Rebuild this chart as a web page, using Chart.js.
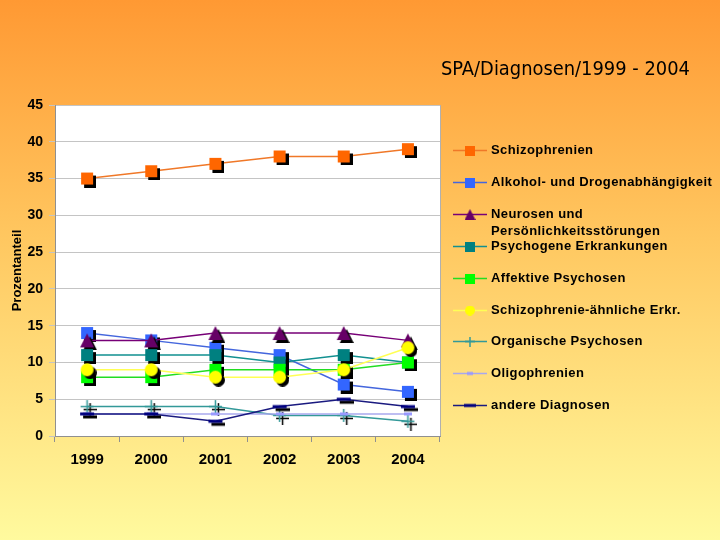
<!DOCTYPE html>
<html>
<head>
<meta charset="utf-8">
<script src="https://cdn.jsdelivr.net/npm/chart.js@4"></script>
<style>
  html, body { margin: 0; padding: 0; }
  #wrap { width: 720px; height: 540px; }
</style>
</head>
<body>
<div id="wrap"><canvas id="chart" width="720" height="540"></canvas></div>
<script>
// Daten
const years = ["1999", "2000", "2001", "2002", "2003", "2004"];
const schizophrenien = [35, 36, 37, 38, 38, 39];
const alkohol = [14, 13, 12, 11, 7, 6];
const neurosen = [13, 13, 14, 14, 14, 13];
const psychogene = [11, 11, 11, 10, 11, 10];
const affektive = [8, 8, 9, 9, 9, 10];
const schizoAehnlich = [9, 9, 8, 8, 9, 12];
const organische = [4, 4, 4, 2.8, 2.8, 2];
const oligophrenien = [3, 3, 3, 3, 3, 3];
const andere = [3, 3, 2, 4, 5, 4];
const yMax = 45;
const yStep = 5;
const chartTitle = "SPA/Diagnosen/1999 - 2004";
const yTitle = "Prozentanteil";

// Marker mit Schatten als kleines Canvas
function marker(shape, color, s, shadow) {
  const o = shadow;
  const c = document.createElement("canvas");
  c.width = s + 2 * o;
  c.height = s + 2 * o;
  const g = c.getContext("2d");
  const draw = (dx, fill) => {
    g.fillStyle = fill;
    g.strokeStyle = fill;
    const x = o + dx, y = o + dx;
    if (shape === "square") {
      g.fillRect(x, y, s, s);
    } else if (shape === "triangle") {
      g.beginPath();
      g.moveTo(x + s / 2, y);
      g.lineTo(x + s, y + s);
      g.lineTo(x, y + s);
      g.closePath();
      g.fill();
    } else if (shape === "circle") {
      g.beginPath();
      g.arc(x + s / 2, y + s / 2, s / 2, 0, Math.PI * 2);
      g.fill();
    } else if (shape === "cross") {
      g.lineWidth = 1.5;
      g.beginPath();
      g.moveTo(x + s / 2, y);
      g.lineTo(x + s / 2, y + s);
      g.moveTo(x, y + s / 2);
      g.lineTo(x + s, y + s / 2);
      g.stroke();
    } else if (shape === "dash") {
      g.fillRect(x, y + s / 2 - 1.5, s, 3);
    }
  };
  if (o > 0) draw(o, "#000000");
  draw(0, color);
  return c;
}

const series = [
  { label: "Schizophrenien", data: schizophrenien, color: "#FF6600", line: "#F07828", shape: "square", size: 12 },
  { label: "Alkohol- und Drogenabhängigkeit", data: alkohol, color: "#3366FF", line: "#4466DD", shape: "square", size: 12 },
  { label: ["Neurosen und", "Persönlichkeitsstörungen"], data: neurosen, color: "#660066", line: "#770077", shape: "triangle", size: 14 },
  { label: "Psychogene Erkrankungen", data: psychogene, color: "#008080", line: "#119090", shape: "square", size: 12 },
  { label: "Affektive Psychosen", data: affektive, color: "#00FF00", line: "#22DD22", shape: "square", size: 12 },
  { label: "Schizophrenie-ähnliche Erkr.", data: schizoAehnlich, color: "#FFFF00", line: "#FFFF55", shape: "circle", size: 13 },
  { label: "Organische Psychosen", data: organische, color: "#339999", line: "#339999", shape: "cross", size: 13 },
  { label: "Oligophrenien", data: oligophrenien, color: "#9999FF", line: "#A8A8EE", shape: "dash", size: 8 },
  { label: "andere Diagnosen", data: andere, color: "#000080", line: "#1A1A80", shape: "dash", size: 14 }
];

const n = series.length;
const datasets = series.map((s, i) => ({
  label: Array.isArray(s.label) ? s.label.join(" ") : s.label,
  data: s.data,
  borderColor: s.line,
  borderWidth: 1.5,
  pointStyle: marker(s.shape, s.color, s.size, s.shape === "dash" && s.size < 10 ? 0 : 3),
  legendStyle: marker(s.shape, s.color, s.shape === "dash" ? s.size - 2 : Math.round(s.size * 0.8), 0),
  legendLines: Array.isArray(s.label) ? s.label : [s.label],
  tension: 0,
  order: n - i
}));

// Hintergrund, Plotfläche, Titel und Legende
const deco = {
  id: "deco",
  beforeDraw(chart) {
    const ctx = chart.ctx;
    const grad = ctx.createLinearGradient(0, 0, 0, chart.height);
    grad.addColorStop(0, "#FF9933");
    grad.addColorStop(0.45, "#FFC861");
    grad.addColorStop(1, "#FFFA9E");
    ctx.save();
    ctx.fillStyle = grad;
    ctx.fillRect(0, 0, chart.width, chart.height);
    const a = chart.chartArea;
    ctx.fillStyle = "#FFFFFF";
    ctx.fillRect(a.left, a.top, a.right - a.left, a.bottom - a.top);
    ctx.strokeStyle = "#B0B0B0";
    ctx.lineWidth = 1;
    ctx.strokeRect(a.left + 0.5, a.top + 0.5, a.right - a.left, a.bottom - a.top);
    ctx.restore();
  },
  afterDraw(chart) {
    const ctx = chart.ctx;
    ctx.save();
    // Titel
    ctx.fillStyle = "#000000";
    ctx.textBaseline = "middle";
    ctx.textAlign = "left";
    let fs = 18;
    ctx.font = fs + "px 'DejaVu Sans Condensed', 'DejaVu Sans', sans-serif";
    const w = ctx.measureText(chartTitle).width;
    fs = fs * 249 / w;
    ctx.font = fs + "px 'DejaVu Sans Condensed', 'DejaVu Sans', sans-serif";
    ctx.fillText(chartTitle, 441, 70);
    // Legende
    ctx.font = "bold 13px 'Liberation Sans', Arial, sans-serif";
    ctx.letterSpacing = "0.4px";
    chart.data.datasets.forEach((ds, i) => {
      const y = Math.round(150 + i * 31.9);
      ctx.strokeStyle = ds.borderColor;
      ctx.lineWidth = 1.5;
      ctx.beginPath();
      ctx.moveTo(453, y + 0.5);
      ctx.lineTo(487, y + 0.5);
      ctx.stroke();
      const m = ds.legendStyle;
      ctx.drawImage(m, 470 - m.width / 2, y - m.height / 2 + 0.5);
      ctx.fillStyle = "#000000";
      ds.legendLines.forEach((t, k) => ctx.fillText(t, 491, y + k * 17));
    });
    ctx.restore();
  }
};

new Chart(document.getElementById("chart"), {
  type: "line",
  data: { labels: years, datasets: datasets },
  plugins: [deco],
  options: {
    responsive: false,
    animation: false,
    events: [],
    layout: { padding: { top: 105, right: 280, left: 0, bottom: 0 } },
    plugins: {
      legend: { display: false },
      title: { display: false },
      tooltip: { enabled: false }
    },
    scales: {
      x: {
        offset: true,
        afterFit(scale) { scale.height = 104; },
        grid: { offset: true, drawOnChartArea: false, drawTicks: true, tickLength: 6, color: "#909090" },
        border: { color: "#909090" },
        ticks: {
          padding: 9,
          color: "#000000",
          font: { family: "'Liberation Sans', Arial, sans-serif", size: 15, weight: "bold" }
        }
      },
      y: {
        min: 0,
        max: yMax,
        afterFit(scale) { scale.width = 55; },
        grid: { color: "#C4C4C4", tickLength: 6, lineWidth: 1 },
        border: { color: "#909090" },
        ticks: {
          stepSize: yStep,
          padding: 6,
          color: "#000000",
          font: { family: "'Liberation Sans', Arial, sans-serif", size: 14, weight: "bold" }
        },
        title: {
          display: true,
          text: yTitle,
          color: "#000000",
          padding: { top: 10, bottom: 0 },
          font: { family: "'Liberation Sans', Arial, sans-serif", size: 13, weight: "bold" }
        }
      }
    }
  }
});
</script>
</body>
</html>
